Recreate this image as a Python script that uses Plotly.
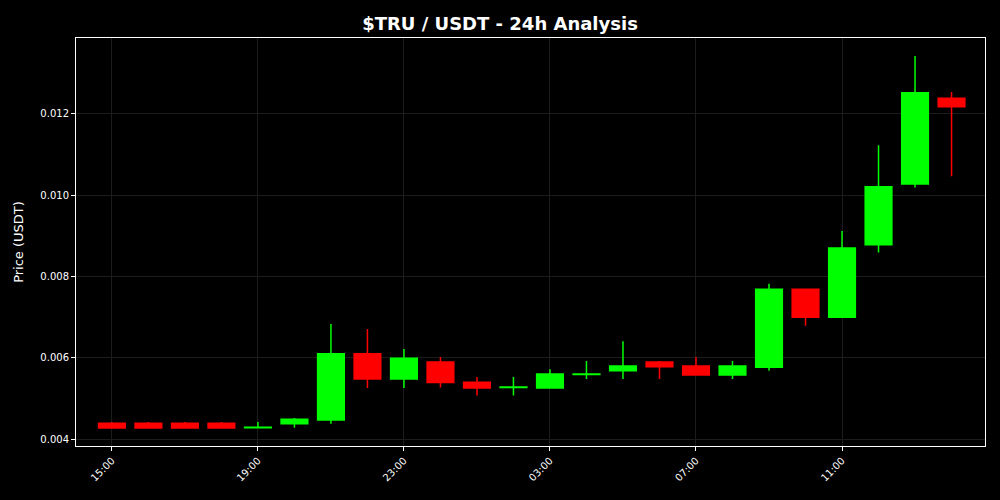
import plotly.graph_objects as go

times = ["2024-01-01 15:00", "2024-01-01 16:00", "2024-01-01 17:00", "2024-01-01 18:00",
         "2024-01-01 19:00", "2024-01-01 20:00", "2024-01-01 21:00", "2024-01-01 22:00",
         "2024-01-01 23:00", "2024-01-02 00:00", "2024-01-02 01:00", "2024-01-02 02:00",
         "2024-01-02 03:00", "2024-01-02 04:00", "2024-01-02 05:00", "2024-01-02 06:00",
         "2024-01-02 07:00", "2024-01-02 08:00", "2024-01-02 09:00", "2024-01-02 10:00",
         "2024-01-02 11:00", "2024-01-02 12:00", "2024-01-02 13:00", "2024-01-02 14:00"]
opens = [0.00439, 0.00439, 0.00439, 0.00439, 0.00428, 0.00438, 0.00447, 0.00610,
         0.00548, 0.00590, 0.00540, 0.00527, 0.00526, 0.00559, 0.00568, 0.00590,
         0.00580, 0.00558, 0.00577, 0.00769, 0.00700, 0.00878, 0.01028, 0.01239]
highs = [0.00442, 0.00442, 0.00442, 0.00442, 0.00442, 0.00452, 0.00683, 0.00671,
         0.00622, 0.00602, 0.00553, 0.00553, 0.00572, 0.00592, 0.00641, 0.00592,
         0.00602, 0.00592, 0.00782, 0.00770, 0.00912, 0.01123, 0.01343, 0.01254]
lows = [0.00427, 0.00427, 0.00427, 0.00427, 0.00428, 0.00428, 0.00438, 0.00526,
        0.00526, 0.00527, 0.00507, 0.00507, 0.00526, 0.00548, 0.00548, 0.00548,
        0.00558, 0.00548, 0.00568, 0.00679, 0.00700, 0.00859, 0.01019, 0.01047]
closes = [0.00427, 0.00427, 0.00427, 0.00427, 0.00429, 0.00449, 0.00610, 0.00548,
          0.00599, 0.00539, 0.00526, 0.00528, 0.00560, 0.00560, 0.00580, 0.00578,
          0.00558, 0.00580, 0.00769, 0.00700, 0.00870, 0.01021, 0.01252, 0.01218]

fig = go.Figure(go.Candlestick(
    x=times, open=opens, high=highs, low=lows, close=closes,
    increasing=dict(line=dict(color="#00ff00", width=1.5), fillcolor="#00ff00"),
    decreasing=dict(line=dict(color="#ff0000", width=1.5), fillcolor="#ff0000"),
    whiskerwidth=0, showlegend=False,
))

axis_common = dict(
    showgrid=True, gridcolor="#1c1c1c", gridwidth=1,
    showline=True, linecolor="white", linewidth=1, mirror=True,
    ticks="outside", tickcolor="white", ticklen=4,
    tickfont=dict(color="white", size=10, family="DejaVu Sans"),
    zeroline=False,
)

fig.update_layout(
    width=1000, height=500,
    paper_bgcolor="black", plot_bgcolor="black",
    margin=dict(l=76, r=15, t=38, b=54),
    title=dict(text="<b>$TRU / USDT - 24h Analysis</b>", x=0.5, xanchor="center",
               y=0.952, yanchor="middle",
               font=dict(color="white", size=18, family="DejaVu Sans")),
    boxgap=0.27, boxgroupgap=0,
    xaxis=dict(axis_common, type="date", rangeslider=dict(visible=False),
               range=["2024-01-01 14:01", "2024-01-02 14:55"],
               tick0="2024-01-01 15:00", dtick=4 * 3600 * 1000, tickformat="%H:%M",
               tickangle=-45),
    yaxis=dict(axis_common, range=[0.00383, 0.01387], dtick=0.002, tick0=0.004,
               tickformat=".3f",
               title=dict(text="Price (USDT)", font=dict(color="white", size=13, family="DejaVu Sans"),
                          standoff=13)),
)

fig.write_html("out.html", config={"displayModeBar": False},
               post_script="document.body.style.margin='0';document.body.style.background='black';")
